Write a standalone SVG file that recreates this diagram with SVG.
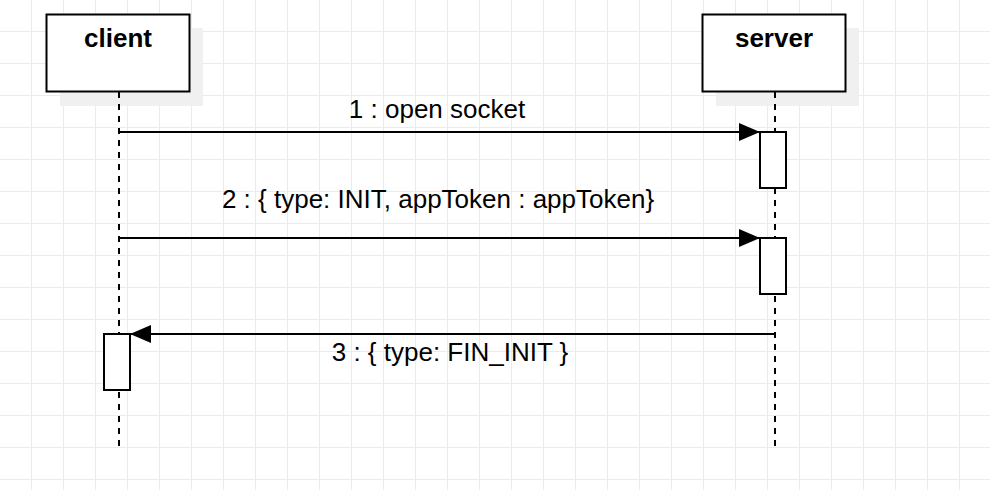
<svg xmlns="http://www.w3.org/2000/svg" width="990" height="490" viewBox="0 0 990 490">
<style>
.box{fill:#ffffff;stroke:#000000;stroke-width:2}
.shadow{fill:#f0f0f0;stroke:none}
.title{font-family:"Liberation Sans",Arial,sans-serif;font-size:26px;font-weight:bold;fill:#000000;text-anchor:middle}
.label{font-family:"Liberation Sans",Arial,sans-serif;font-size:26px;fill:#000000;text-anchor:middle}
.life{stroke:#000000;stroke-width:2;stroke-dasharray:6 6;fill:none}
.act{fill:#ffffff;stroke:#000000;stroke-width:2}
.msg{stroke:#000000;stroke-width:2;fill:none;marker-end:url(#arrow)}
</style>
<defs>
<pattern id="grid" x="0" y="0" width="32" height="32" patternUnits="userSpaceOnUse">
<rect x="31" y="0" width="1" height="32" fill="#ebebeb"/>
<rect x="0" y="31" width="32" height="1" fill="#ebebeb"/>
</pattern>
<marker id="arrow" markerUnits="userSpaceOnUse" markerWidth="21" markerHeight="18" refX="21" refY="9" orient="auto">
<path d="M0,0 L21,9 L0,18 Z" fill="#000000"/>
</marker>
</defs>
<rect x="0" y="0" width="990" height="490" fill="#ffffff"/>
<rect x="0" y="0" width="990" height="490" fill="url(#grid)"/>
<g id="client">
<rect class="shadow" x="60" y="28" width="143" height="78"/>
<line class="life" x1="119" y1="92" x2="119" y2="447"/>
<rect class="box" x="46.5" y="14.5" width="143" height="77"/>
<text class="title" x="118" y="47">client</text>
</g>
<g id="server">
<rect class="shadow" x="716" y="28" width="143" height="78"/>
<line class="life" x1="775" y1="92" x2="775" y2="447"/>
<rect class="box" x="702.5" y="14.5" width="143" height="77"/>
<text class="title" x="774" y="47">server</text>
</g>
<g id="server-act1"><rect class="act" x="760" y="132" width="26" height="56"/></g>
<g id="server-act2"><rect class="act" x="760" y="238" width="26" height="56"/></g>
<g id="client-act"><rect class="act" x="104" y="334" width="26" height="56"/></g>
<g id="connectors">
<line class="msg" x1="119" y1="132" x2="760" y2="132"/>
<line class="msg" x1="119" y1="238" x2="760" y2="238"/>
<line class="msg" x1="775" y1="334" x2="130" y2="334"/>
</g>
<g id="labels">
<text class="label" x="437" y="118">1 : open socket</text>
<text class="label" x="438" y="208">2 : { type: INIT, appToken : appToken}</text>
<text class="label" x="450" y="361">3 : { type: FIN_INIT }</text>
</g>
</svg>
